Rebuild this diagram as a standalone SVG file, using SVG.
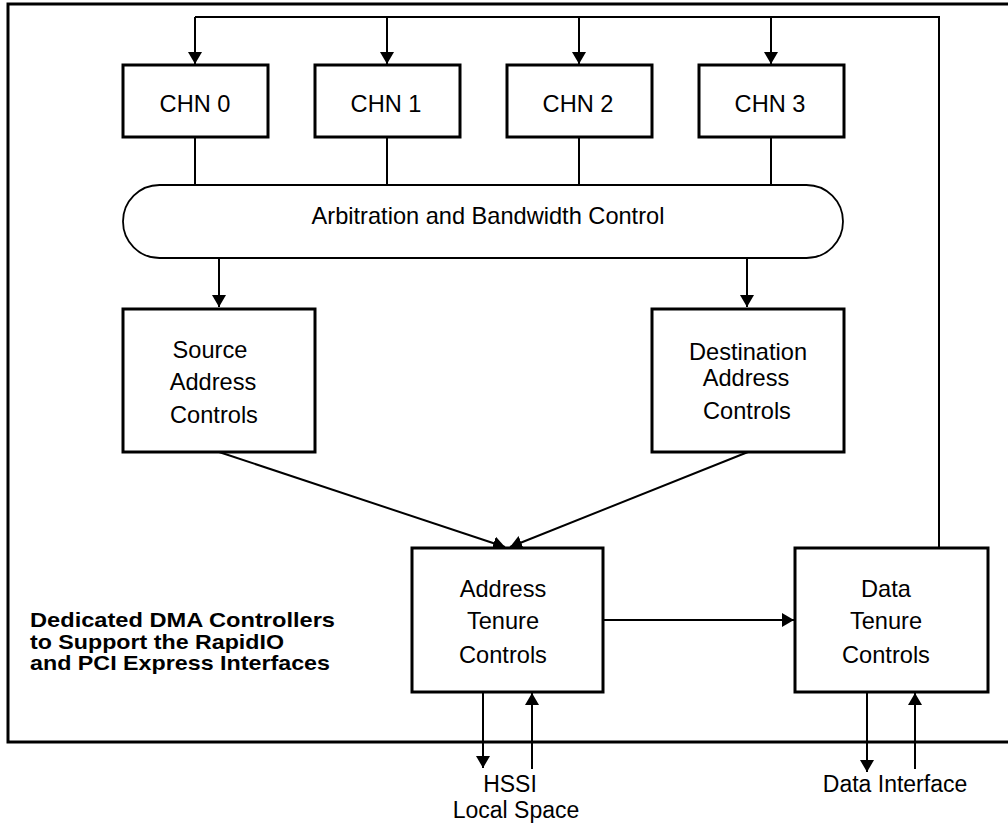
<svg xmlns="http://www.w3.org/2000/svg" width="1008" height="826" viewBox="0 0 1008 826">
<style>
.box{fill:#fff;stroke:#000;stroke-width:3}
.pill{fill:#fff;stroke:#000;stroke-width:1.8}
.frame{fill:none;stroke:#000;stroke-width:3}
.ln{fill:none;stroke:#000;stroke-width:2}
.arr{fill:none;stroke:#000;stroke-width:2;marker-end:url(#ah)}
text{font-family:"Liberation Sans",Arial,sans-serif;font-size:23.6px;fill:#000;text-anchor:middle}
.lbl{font-size:23px}
.b{font-weight:bold;font-size:21px;text-anchor:start}
</style>
<defs>
<marker id="ah" markerUnits="userSpaceOnUse" viewBox="0 0 12 14" refX="12" refY="7" markerWidth="12" markerHeight="14" orient="auto">
<path d="M0,0 L12,7 L0,14 z" fill="#000"/>
</marker>
</defs>
<rect width="1008" height="826" fill="#fff"/>
<rect id="frame" class="frame" x="8" y="4" width="1012" height="738"/>
<g id="connectors">
<path class="ln" d="M939,548 V17 H195"/>
<path class="arr" d="M195,17 V64"/>
<path class="arr" d="M387,17 V64"/>
<path class="arr" d="M579,17 V64"/>
<path class="arr" d="M771,17 V64"/>
<path class="ln" d="M195,137 V185"/>
<path class="ln" d="M387,137 V185"/>
<path class="ln" d="M579,137 V185"/>
<path class="ln" d="M771,137 V185"/>
<path class="arr" d="M219,258 V307"/>
<path class="arr" d="M747,258 V307"/>
<path class="arr" d="M219,452 L505,547"/>
<path class="arr" d="M748,452 L510,547"/>
<path class="arr" d="M603,620 H794"/>
<path class="arr" d="M483,692 V768"/>
<path class="arr" d="M532,769 V693"/>
<path class="arr" d="M867,692 V772"/>
<path class="arr" d="M915,769 V693"/>
</g>
<g id="chn0"><rect class="box" x="123" y="65" width="145" height="72"/><text x="195" y="112">CHN 0</text></g>
<g id="chn1"><rect class="box" x="315" y="65" width="145" height="72"/><text x="386" y="112">CHN 1</text></g>
<g id="chn2"><rect class="box" x="507" y="65" width="145" height="72"/><text x="578" y="112">CHN 2</text></g>
<g id="chn3"><rect class="box" x="699" y="65" width="145" height="72"/><text x="770" y="112">CHN 3</text></g>
<g id="arbitration"><rect class="pill" x="123" y="185" width="720" height="73" rx="36.5" ry="36.5"/><text x="488" y="224">Arbitration and Bandwidth Control</text></g>
<g id="source"><rect class="box" x="123" y="309" width="192" height="143"/>
<text x="210" y="358">Source</text><text x="213" y="390">Address</text><text x="214" y="423">Controls</text></g>
<g id="destination"><rect class="box" x="652" y="309" width="192" height="143"/>
<text x="748" y="360">Destination</text><text x="746" y="386">Address</text><text x="747" y="419">Controls</text></g>
<g id="address-tenure"><rect class="box" x="412" y="548" width="191" height="144"/>
<text x="503" y="597">Address</text><text x="503" y="629">Tenure</text><text x="503" y="663">Controls</text></g>
<g id="data-tenure"><rect class="box" x="795" y="548" width="193" height="144"/>
<text x="886" y="597">Data</text><text x="886" y="629">Tenure</text><text x="886" y="663">Controls</text></g>
<g id="hssi"><text class="lbl" x="510" y="792">HSSI</text><text class="lbl" x="516" y="818">Local Space</text></g>
<g id="data-interface"><text class="lbl" x="895" y="792">Data Interface</text></g>
<g id="caption"><text class="b" x="30" y="627" textLength="305" lengthAdjust="spacingAndGlyphs">Dedicated DMA Controllers</text><text class="b" x="30" y="648.5" textLength="254" lengthAdjust="spacingAndGlyphs">to Support the RapidIO</text><text class="b" x="30" y="670" textLength="300" lengthAdjust="spacingAndGlyphs">and PCI Express Interfaces</text></g>
</svg>
